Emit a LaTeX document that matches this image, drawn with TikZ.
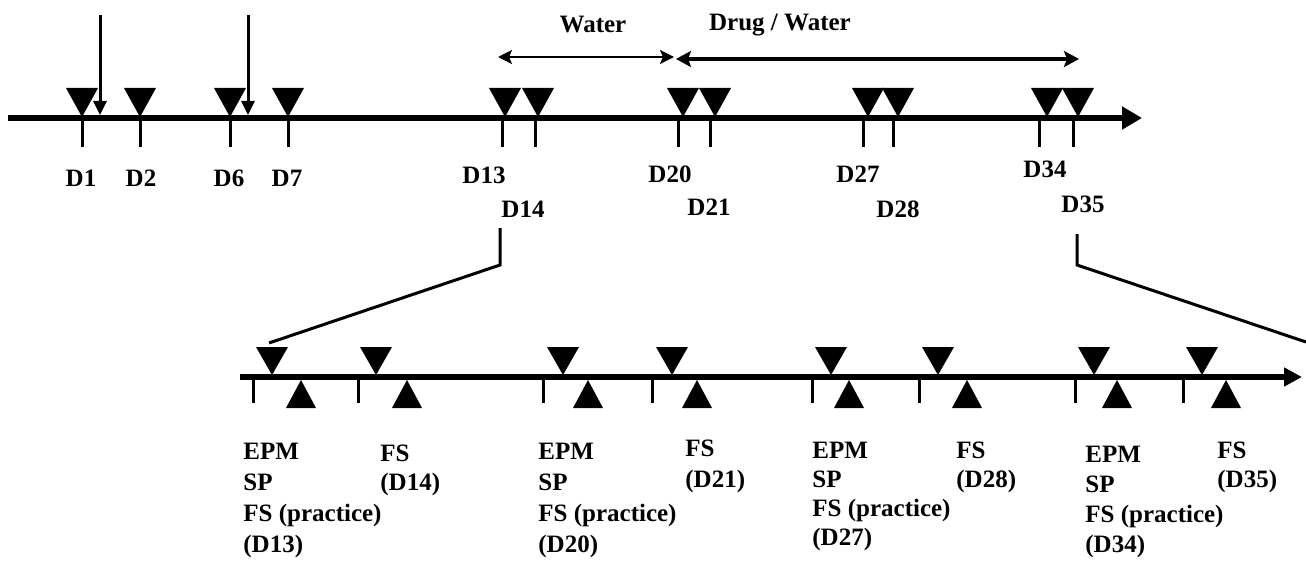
\documentclass[tikz,border=0pt]{standalone}
\usepackage{fontspec}
\setmainfont{Liberation Serif}
\usetikzlibrary{arrows.meta}
\begin{document}
\begin{tikzpicture}[x=0.5pt,y=-0.5pt,
  lbl/.style={font=\fontsize{12.5}{15.5}\selectfont\bfseries, inner sep=0pt},
  axisline/.style={line width=3pt},
  tickline/.style={line width=1.5pt},
  zoomline/.style={line width=1.5pt},
  dtri/.pic={\fill (-16,-29)--(16,-29)--(0,0)--cycle;},
  dtrib/.pic={\fill (-16,-28)--(16,-28)--(0,0)--cycle;},
  utri/.pic={\fill (-15,28)--(15,28)--(0,0)--cycle;},
]
\useasboundingbox (0,0) rectangle (1306,583);

% ---------- top time line ----------
\coordinate (tA) at (8,118);
\coordinate (tB) at (1142,118);
\draw[axisline,-{Triangle[width=11pt,length=10pt]}] (tA) -- (tB);

\foreach \x in {82,140,230,288,502,535,678,710,863,893,1039,1073}
  \draw[tickline] (\x,119) -- (\x,147);

\foreach \x in {82,140,230,288,505,538,683,715,868,898,1047,1078}
  \pic at (\x,117) {dtri};

% injection arrows
\coordinate (i1s) at (100,15);  \coordinate (i1e) at (100,115);
\coordinate (i2s) at (248,15);  \coordinate (i2e) at (248,115);
\draw[line width=1.5pt,-{Triangle[width=6.5pt,length=7pt]}] (i1s) -- (i1e);
\draw[line width=1.5pt,-{Triangle[width=6.5pt,length=7pt]}] (i2s) -- (i2e);

% Water / Drug arrows
\coordinate (w1) at (498,57);  \coordinate (w2) at (674,57);
\coordinate (d1) at (676,59);  \coordinate (d2) at (1079,59);
\draw[line width=1pt,{Stealth[length=7pt,width=7pt,inset=1.5pt]}-{Stealth[length=7pt,width=7pt,inset=1.5pt]}] (w1) -- (w2);
\draw[line width=2pt,{Stealth[length=7.5pt,width=8pt,inset=1.5pt]}-{Stealth[length=7.5pt,width=8pt,inset=1.5pt]}] (d1) -- (d2);
\node[lbl] (water) at (593,25) {Water};
\node[lbl] (drug) at (780,25) {Drug / Water};

% day labels
\node[lbl,anchor=base] (lD1)  at (81,186)  {D1};
\node[lbl,anchor=base] (lD2)  at (141,186) {D2};
\node[lbl,anchor=base] (lD6)  at (229,186) {D6};
\node[lbl,anchor=base] (lD7)  at (287,186) {D7};
\node[lbl,anchor=base] (lD13) at (484,184) {D13};
\node[lbl,anchor=base] (lD14) at (523,217) {D14};
\node[lbl,anchor=base] (lD20) at (670,182) {D20};
\node[lbl,anchor=base] (lD21) at (709,215) {D21};
\node[lbl,anchor=base] (lD27) at (858,182) {D27};
\node[lbl,anchor=base] (lD28) at (898,217) {D28};
\node[lbl,anchor=base] (lD34) at (1045,177) {D34};
\node[lbl,anchor=base] (lD35) at (1083,212) {D35};

% ---------- zoom connectors ----------
\coordinate (zl0) at (500,228);
\coordinate (zl1) at (500,265);
\coordinate (zl2) at (269,343);
\coordinate (zr0) at (1077,234);
\coordinate (zr1) at (1077,265);
\coordinate (zr2) at (1306,342);
\draw[zoomline] (zl0) -- (zl1) -- (zl2);
\draw[zoomline] (zr0) -- (zr1) -- (zr2);

% ---------- bottom time line ----------
\coordinate (bA) at (240,377);
\coordinate (bB) at (1302,377);
\draw[axisline,-{Triangle[width=9pt,length=9pt]}] (bA) -- (bB);

\foreach \x in {253,358,543,652,812,919,1075,1183}
  \draw[tickline] (\x,380) -- (\x,403);
\foreach \x in {272,376,563,672,831,938,1094,1202}
  \pic at (\x,375) {dtrib};
\foreach \x in {301,407,588,697,849,967,1117,1226}
  \pic at (\x,380) {utri};

% ---------- bottom labels ----------
\node[lbl,anchor=base west] (b1a) at (243,459) {EPM};
\node[lbl,anchor=base west] (b1b) at (243,490) {SP};
\node[lbl,anchor=base west] (b1c) at (243,521) {FS (practice)};
\node[lbl,anchor=base west] (b1d) at (243,552) {(D13)};
\node[lbl,anchor=base west] (f1a) at (380,461) {FS};
\node[lbl,anchor=base west] (f1b) at (380,490) {(D14)};

\node[lbl,anchor=base west] (b2a) at (538,459) {EPM};
\node[lbl,anchor=base west] (b2b) at (538,490) {SP};
\node[lbl,anchor=base west] (b2c) at (538,521) {FS (practice)};
\node[lbl,anchor=base west] (b2d) at (538,552) {(D20)};
\node[lbl,anchor=base west] (f2a) at (685,456) {FS};
\node[lbl,anchor=base west] (f2b) at (685,487) {(D21)};

\node[lbl,anchor=base west] (b3a) at (812,458) {EPM};
\node[lbl,anchor=base west] (b3b) at (812,487) {SP};
\node[lbl,anchor=base west] (b3c) at (812,516) {FS (practice)};
\node[lbl,anchor=base west] (b3d) at (812,545) {(D27)};
\node[lbl,anchor=base west] (f3a) at (956,458) {FS};
\node[lbl,anchor=base west] (f3b) at (956,487) {(D28)};

\node[lbl,anchor=base west] (b4a) at (1085,462) {EPM};
\node[lbl,anchor=base west] (b4b) at (1085,492) {SP};
\node[lbl,anchor=base west] (b4c) at (1085,522) {FS (practice)};
\node[lbl,anchor=base west] (b4d) at (1085,552) {(D34)};
\node[lbl,anchor=base west] (f4a) at (1217,458) {FS};
\node[lbl,anchor=base west] (f4b) at (1217,487) {(D35)};
\end{tikzpicture}
\end{document}
